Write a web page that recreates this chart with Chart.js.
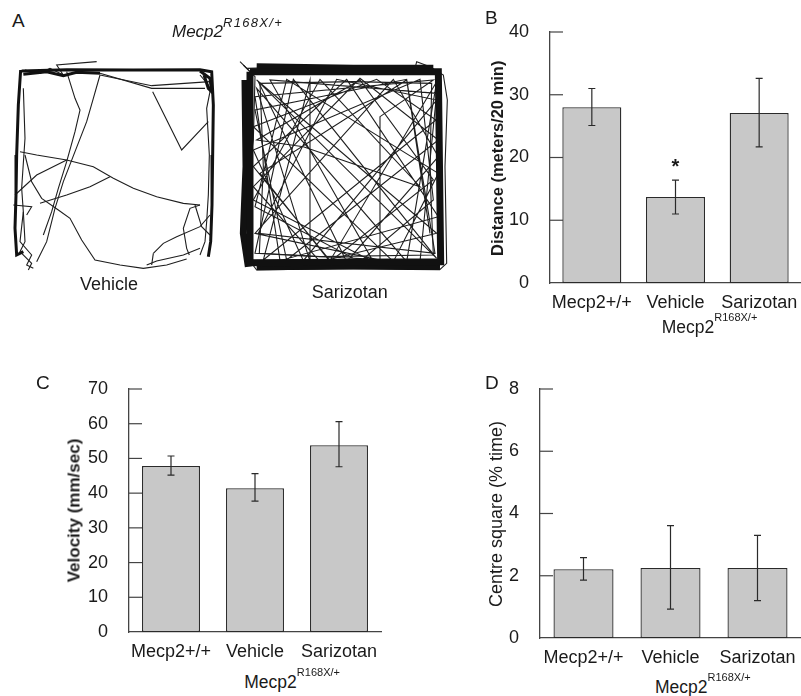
<!DOCTYPE html>
<html>
<head>
    <title>Mecp2 R168X open field</title>
    <script src="https://cdn.jsdelivr.net/npm/chart.js"></script>
    <style>
        body { margin: 0; width: 801px; height: 696px; background: #fff; position: relative; overflow: hidden;
               font-family: 'Liberation Sans', Arial, Helvetica, sans-serif; color: #1a1a1a; }
        canvas { position: absolute; }
        .txt { position: absolute; line-height: 1; white-space: nowrap; }
        .letter { font-size: 19px; }
        .ytitle { position: absolute; width: 260px; text-align: center; line-height: 1; white-space: nowrap;
                  transform: rotate(-90deg); transform-origin: 50% 50%; }
        .sup { position: relative; }
    </style>
</head>
<body>
    <!-- panel A: tracks -->
    <canvas id="vehicleTrack" width="230" height="225" style="left:0px; top:55px;"></canvas>
    <canvas id="sarizotanTrack" width="230" height="310" style="left:220px; top:0px;"></canvas>
    <!-- panels B, C, D -->
    <canvas id="distanceChart" width="331" height="321" style="left:470px; top:0px;"></canvas>
    <canvas id="velocityChart" width="360" height="330" style="left:40px; top:340px;"></canvas>
    <canvas id="centreChart" width="361" height="336" style="left:440px; top:340px;"></canvas>

    <div class="txt letter" style="left:12px; top:10.5px;">A</div>
    <div class="txt letter" style="left:485px; top:7.5px;">B</div>
    <div class="txt letter" style="left:36px; top:372.5px;">C</div>
    <div class="txt letter" style="left:485px; top:372.5px;">D</div>

    <div class="txt" style="left:172px; top:22.8px; font-size:17px; font-style:italic;">Mecp2<span class="sup" style="font-size:13px; top:-10px; letter-spacing:1.3px;">R168X/+</span></div>
    <div class="txt" style="left:80px; top:274.7px; font-size:18px;">Vehicle</div>
    <div class="txt" style="left:311.7px; top:283.4px; font-size:18px;">Sarizotan</div>

    <div class="ytitle" style="left:367px; top:150.2px; font-size:16.5px; font-weight:bold;">Distance (meters/20 min)</div>
    <div class="ytitle" style="left:-56.5px; top:501.5px; font-size:17px; font-weight:bold;">Velocity (mm/sec)</div>
    <div class="ytitle" style="left:366px; top:504.5px; font-size:18px;">Centre square (% time)</div>

    <div class="txt" style="left:661.7px; top:319.4px; font-size:17.5px;">Mecp2<span class="sup" style="font-size:11px; top:-12px;">R168X/+</span></div>
    <div class="txt" style="left:244.3px; top:674.4px; font-size:17.5px;">Mecp2<span class="sup" style="font-size:11px; top:-12px;">R168X/+</span></div>
    <div class="txt" style="left:655px; top:679.4px; font-size:17.5px;">Mecp2<span class="sup" style="font-size:11px; top:-12px;">R168X/+</span></div>

    <script type="text/javascript">
        // bar chart data
        const categories = ['Mecp2+/+', 'Vehicle', 'Sarizotan'];

        const distanceTicks = [0, 10, 20, 30, 40];
        const distanceMean = [28.0, 13.7, 27.1];
        const distanceLow = [25.1, 11.0, 21.7];
        const distanceHigh = [31.0, 16.4, 32.6];
        const distanceMarks = ['', '*', ''];

        const velocityTicks = [0, 10, 20, 30, 40, 50, 60, 70];
        const velocityMean = [47.8, 41.4, 53.8];
        const velocityLow = [45.2, 37.7, 47.6];
        const velocityHigh = [50.7, 45.6, 60.6];

        const centreTicks = [0, 2, 4, 6, 8];
        const centreMean = [2.21, 2.25, 2.25];
        const centreLow = [1.86, 0.93, 1.20];
        const centreHigh = [2.58, 3.61, 3.30];

        // panel A tracks (x right, y down)
        const vehicleEdges = [
            [[65,48],[200,44],[400,45],[600,44],[635,50],[640,150],[638,300],[636,450],[632,560],[625,605]],
            [[62,45],[55,150],[50,300],[48,420],[45,520],[50,600],[70,590]],
            [[70,58],[140,50],[190,62],[230,52],[300,55]],
            [[600,48],[630,70],[635,110],[625,100],[612,60]]
        ];
        const vehiclePaths = [
            [[75,45],[120,55],[150,40],[190,60],[170,30],[290,20]],
            [[600,60],[625,90],[630,110],[620,160],[628,300],[625,420],[620,500],[615,560],[600,600]],
            [[70,100],[75,250],[65,400],[70,470],[60,560],[95,600],[80,630],[100,640]],
            [[300,55],[455,100],[615,100]],
            [[300,60],[455,92],[630,80]],
            [[458,110],[545,285],[625,200]],
            [[300,60],[280,130],[260,200],[225,290],[190,380],[165,460],[140,560],[110,620]],
            [[200,50],[225,130],[240,165],[225,230],[200,320],[175,400],[155,470],[130,540]],
            [[60,290],[110,300],[200,315],[280,335],[340,370],[400,400],[470,425],[550,445],[600,450]],
            [[45,420],[110,360],[200,315]],
            [[120,445],[200,420],[270,395],[330,365]],
            [[75,300],[95,380],[125,430],[175,465],[210,490],[245,555],[285,615],[360,630],[430,640],[500,630],[560,612]],
            [[600,450],[570,460],[550,520],[560,580],[568,600]],
            [[585,450],[605,515],[630,540]],
            [[460,595],[490,565],[530,545],[600,515],[630,480]],
            [[440,630],[470,618],[550,600],[600,580]],
            [[70,470],[75,560],[60,590],[95,625],[85,645]],
            [[460,595],[455,630]],
            [[40,450],[95,455],[80,480]]
        ];

        const sarizotanEdges = [
            [[90,215],[655,215],[662,785],[90,788],[90,215]],
            [[75,240],[78,500],[70,700],[85,800]],
            [[110,200],[400,205],[640,205]],
            [[110,800],[400,798],[660,800]]
        ];
        const sarizotanPaths = [
            [[70,195],[105,230],[100,420],[80,560],[95,790],[110,810],[400,805],[660,808],[680,790],[675,500],[682,300],[670,225],[630,200],[590,185],[585,205],[300,200],[80,205]],
            [[120,250],[130,500],[118,760],[300,770],[640,765],[630,520],[635,250],[400,245],[120,250]],
            [[60,185],[90,215]],
            [[110,240],[650,700],[300,785],[100,560],[420,235],[655,420],[200,780],[105,330],[560,238],[645,760],
             [115,700],[350,238],[650,300],[250,782],[100,450],[600,238],[640,600],[420,785],[105,620],[200,238],
             [655,520],[520,785],[100,380],[470,238],[648,360],[130,780],[270,240],[270,785],[110,265],[560,785],
             [650,245],[330,782],[100,500],[380,238],[655,650],[180,782],[105,290],[640,240],[480,350],[480,780],
             [105,700],[520,238],[655,470],[380,785],[115,245],[650,775],[220,238],[105,760],[600,785],[650,280],
             [150,240],[460,785],[100,600],[300,238],[600,560],[250,440],[110,420],[420,240],[640,540],[330,785],
             [120,520],[560,240],[630,700]]
        ];

        Chart.defaults.font.family = "'Liberation Sans', Arial, Helvetica, sans-serif";
        Chart.defaults.color = '#1a1a1a';

        function trackChart(id, edges, paths, yMax, edgeWidth) {
            const sets = [];
            edges.forEach(function(p) {
                sets.push({ data: p.map(function(q) { return {x: q[0], y: q[1]}; }), showLine: true,
                            borderColor: '#111', borderWidth: edgeWidth, pointRadius: 0, tension: 0, fill: false });
            });
            paths.forEach(function(p) {
                sets.push({ data: p.map(function(q) { return {x: q[0], y: q[1]}; }), showLine: true,
                            borderColor: '#1e1e1e', borderWidth: 1.1, pointRadius: 0, tension: 0, fill: false });
            });
            return new Chart(document.getElementById(id), {
                type: 'scatter',
                data: { datasets: sets },
                options: {
                    responsive: false, animation: false,
                    layout: { padding: 0 },
                    plugins: { legend: { display: false }, tooltip: { enabled: false } },
                    scales: {
                        x: { type: 'linear', display: false, min: 0, max: 690 },
                        y: { type: 'linear', display: false, min: 0, max: yMax, reverse: true }
                    }
                }
            });
        }

        // error bars and star drawn through the y scale
        const errorBars = {
            id: 'errorBars',
            afterDatasetsDraw(chart, args, opts) {
                const ctx = chart.ctx;
                const y = chart.scales.y;
                const bars = chart.getDatasetMeta(0).data;
                ctx.save();
                ctx.strokeStyle = '#2a2a2a';
                ctx.lineWidth = 1.2;
                bars.forEach(function(bar, i) {
                    const top = y.getPixelForValue(opts.high[i]);
                    const bottom = y.getPixelForValue(opts.low[i]);
                    ctx.beginPath();
                    ctx.moveTo(bar.x, top); ctx.lineTo(bar.x, bottom);
                    ctx.moveTo(bar.x - 3.5, top); ctx.lineTo(bar.x + 3.5, top);
                    ctx.moveTo(bar.x - 3.5, bottom); ctx.lineTo(bar.x + 3.5, bottom);
                    ctx.stroke();
                    if (opts.marks && opts.marks[i]) {
                        ctx.fillStyle = '#1a1a1a';
                        ctx.font = "bold 20px 'Liberation Sans', Arial, sans-serif";
                        ctx.textAlign = 'center';
                        ctx.textBaseline = 'middle';
                        ctx.fillText(opts.marks[i], bar.x, top - 13);
                    }
                });
                ctx.restore();
            }
        };

        // tick marks pointing into the plot
        const innerTicks = {
            id: 'innerTicks',
            afterDraw(chart) {
                const ctx = chart.ctx;
                const y = chart.scales.y;
                const left = chart.chartArea.left;
                ctx.save();
                ctx.strokeStyle = '#444';
                ctx.lineWidth = 1.2;
                y.ticks.forEach(function(t, i) {
                    if (t.value === y.min) return;
                    const py = y.getPixelForTick(i);
                    ctx.beginPath();
                    ctx.moveTo(left, py);
                    ctx.lineTo(left + 13, py);
                    ctx.stroke();
                });
                ctx.restore();
            }
        };

        function barChart(id, means, low, high, ticks, marks, yWidth, pad, barPct) {
            return new Chart(document.getElementById(id), {
                type: 'bar',
                data: {
                    labels: categories,
                    datasets: [{
                        data: means,
                        backgroundColor: '#c8c8c8',
                        borderColor: '#2a2a2a',
                        borderWidth: 1.3,
                        borderSkipped: false,
                        categoryPercentage: 1,
                        barPercentage: barPct
                    }]
                },
                options: {
                    responsive: false, animation: false,
                    layout: { padding: pad },
                    plugins: {
                        legend: { display: false }, tooltip: { enabled: false },
                        errorBars: { low: low, high: high, marks: marks }
                    },
                    scales: {
                        x: {
                            grid: { display: false },
                            border: { display: true, color: '#444', width: 1.3 },
                            ticks: { font: { size: 18 }, color: '#1a1a1a', padding: 1, maxRotation: 0, autoSkip: false },
                            afterFit: function(s) { s.height = 38; }
                        },
                        y: {
                            min: ticks[0], max: ticks[ticks.length - 1],
                            grid: { display: false },
                            border: { display: true, color: '#444', width: 1.3 },
                            ticks: { font: { size: 18 }, color: '#1a1a1a', padding: 13 },
                            afterBuildTicks: function(s) { s.ticks = ticks.map(function(v) { return {value: v}; }); },
                            afterFit: function(s) { s.width = yWidth; }
                        }
                    }
                },
                plugins: [errorBars, innerTicks]
            });
        }

        trackChart('vehicleTrack', vehicleEdges, vehiclePaths, 675, 3);
        trackChart('sarizotanTrack', sarizotanEdges, sarizotanPaths, 930, 7);

        barChart('distanceChart', distanceMean, distanceLow, distanceHigh, distanceTicks, distanceMarks, 80,
                 { left: 0, right: 0, top: 32, bottom: 0 }, 0.705);
        barChart('velocityChart', velocityMean, velocityLow, velocityHigh, velocityTicks, null, 89,
                 { left: 0, right: 19, top: 49, bottom: 0 }, 0.69);
        barChart('centreChart', centreMean, centreLow, centreHigh, centreTicks, null, 100,
                 { left: 0, right: 0, top: 49, bottom: 0 }, 0.69);
    </script>
</body>
</html>
